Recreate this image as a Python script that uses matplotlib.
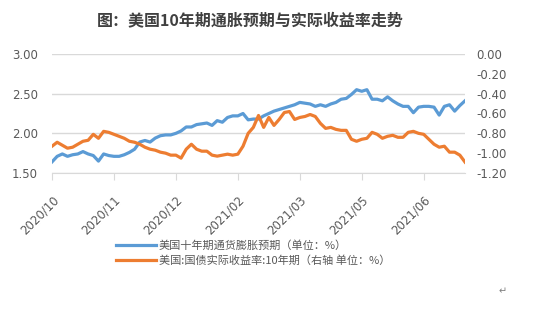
import matplotlib
matplotlib.use("Agg")
import matplotlib.pyplot as plt
import numpy as np

plt.rcParams['font.family'] = ['Noto Sans CJK SC', 'DejaVu Sans']

# Tick labels along the category axis (one every 12 observations)
tick_labels = ["2020/10", "2020/11", "2020/12", "2021/02", "2021/03", "2021/05", "2021/06"]
tick_step = 12

# US 10Y breakeven inflation expectation (%), left axis
inflation_exp = [
    1.64, 1.71, 1.74, 1.71, 1.73, 1.74, 1.77, 1.74, 1.72, 1.65,
    1.74, 1.72, 1.71, 1.71, 1.73, 1.76, 1.80, 1.89, 1.91, 1.89,
    1.94, 1.97, 1.98, 1.98, 2.00, 2.03, 2.08, 2.08, 2.11, 2.12,
    2.13, 2.10, 2.16, 2.14, 2.20, 2.22, 2.22, 2.25, 2.17, 2.18,
    2.18, 2.22, 2.25, 2.28, 2.30, 2.32, 2.34, 2.36, 2.39, 2.38,
    2.37, 2.34, 2.36, 2.34, 2.37, 2.39, 2.43, 2.44, 2.49, 2.55,
    2.53, 2.55, 2.43, 2.43, 2.41, 2.46, 2.41, 2.37, 2.34, 2.34,
    2.26, 2.33, 2.34, 2.34, 2.33, 2.23, 2.34, 2.36, 2.28, 2.35,
    2.41,
]

# US 10Y real Treasury yield (%), right axis
real_yield = [
    -0.93, -0.89, -0.92, -0.95, -0.94, -0.91, -0.88, -0.87, -0.81, -0.85,
    -0.78, -0.79, -0.81, -0.83, -0.85, -0.88, -0.89, -0.91, -0.94, -0.96,
    -0.97, -0.99, -1.00, -1.02, -1.02, -1.05, -0.96, -0.91, -0.96, -0.98,
    -0.98, -1.02, -1.03, -1.02, -1.01, -1.02, -1.01, -0.93, -0.80, -0.74,
    -0.62, -0.74, -0.64, -0.72, -0.66, -0.59, -0.58, -0.66, -0.64, -0.63,
    -0.61, -0.63, -0.70, -0.75, -0.74, -0.76, -0.77, -0.77, -0.86, -0.88,
    -0.86, -0.85, -0.79, -0.81, -0.85, -0.83, -0.82, -0.84, -0.84, -0.79,
    -0.78, -0.80, -0.81, -0.86, -0.91, -0.94, -0.93, -0.99, -0.99, -1.02,
    -1.09,
]

blue = "#5B9BD5"
orange = "#ED7D31"
grid_c = "#D9D9D9"
text_c = "#595959"

fig = plt.figure(figsize=(5.33, 3.23), dpi=100)
ax = fig.add_axes([52 / 533, 1 - 173 / 323, (465 - 52) / 533, (173 - 54) / 323])
ax2 = ax.twinx()

x = np.arange(len(inflation_exp))
l1, = ax.plot(x, inflation_exp, color=blue, lw=2.3, solid_joinstyle='round')
l2, = ax2.plot(x, real_yield, color=orange, lw=2.3, solid_joinstyle='round')

ax.set_xlim(0, len(inflation_exp) - 1)
ax.set_ylim(1.5, 3.0)
ax.set_yticks([1.5, 2.0, 2.5, 3.0])
ax.set_yticklabels([f"{v:.2f}" for v in [1.5, 2.0, 2.5, 3.0]])
ax2.set_ylim(-1.2, 0.0)
r_ticks = np.round(np.arange(-1.2, 0.001, 0.2), 2)
ax2.set_yticks(r_ticks)
ax2.set_yticklabels([f"{v:.2f}" if v != 0 else "0.00" for v in r_ticks])

ax.grid(axis='y', color=grid_c, lw=1)
ax.set_axisbelow(True)
for a in (ax, ax2):
    for s in a.spines.values():
        s.set_visible(False)
ax.spines['bottom'].set_visible(True)
ax.spines['bottom'].set_color(grid_c)

ax.set_xticks(np.arange(0, len(tick_labels) * tick_step, tick_step))
ax.set_xticklabels(tick_labels, rotation=45, ha='right', rotation_mode='anchor')
ax.tick_params(axis='x', length=5, color=grid_c, labelsize=8.5, labelcolor=text_c, pad=10)
ax.tick_params(axis='y', length=0, labelsize=8.5, labelcolor=text_c, pad=10)
ax2.tick_params(axis='y', length=0, labelsize=8.5, labelcolor=text_c, pad=8)
for lab in ax.get_xticklabels() + ax.get_yticklabels() + ax2.get_yticklabels():
    lab.set_family('DejaVu Sans')

fig.text(250 / 533, 1 - 20 / 323, "图：美国10年期通胀预期与实际收益率走势",
         ha='center', va='center', fontsize=11.5, fontweight='bold', color='#404040')

fig.legend([l1, l2],
           ["美国十年期通货膨胀预期（单位：%）", "美国:国债实际收益率:10年期（右轴 单位：%）"],
           loc='upper left', bbox_to_anchor=(112 / 533, 1 - 236 / 323),
           frameon=False, fontsize=8, labelcolor=text_c,
           handlelength=3.6, handletextpad=0.2, labelspacing=0.35, borderaxespad=0)

fig.text(503 / 533, 1 - 291 / 323, "↵", ha='center', va='center', fontsize=7,
         color='#7F7F7F', family='DejaVu Sans')

fig.savefig("out.png", dpi=100)
